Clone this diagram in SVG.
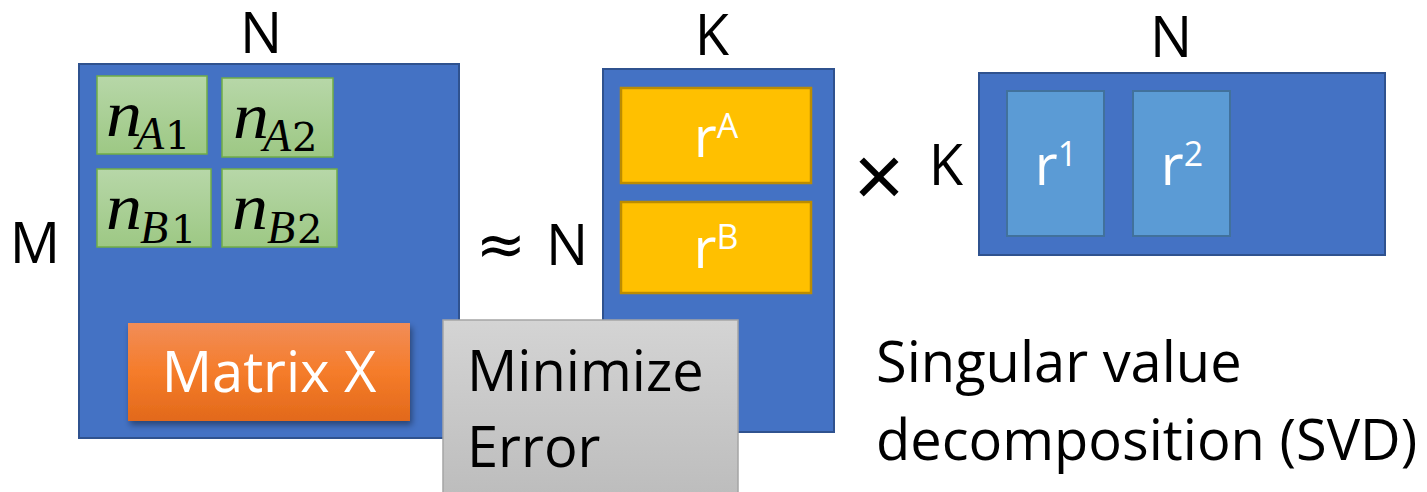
<svg xmlns="http://www.w3.org/2000/svg" width="1427" height="492" viewBox="0 0 1427 492">
<defs>
<style>
.lbl{font-family:"Open Sans","Liberation Sans",sans-serif;font-size:56px;fill:#000}
.wt{font-family:"Open Sans","Liberation Sans",sans-serif;font-size:56px;fill:#fff}
.mat{fill:#4472c4;stroke:#2f528f;stroke-width:2}
.gr{fill:url(#gGreen);stroke:#70ad47;stroke-width:1.5}
.yl{fill:#ffc000;stroke:#bc8c00;stroke-width:2.5}
.lb{fill:#5b9bd5;stroke:#41719c;stroke-width:2}
.mn{font-family:"Liberation Serif","DejaVu Serif",serif;font-style:italic;font-size:66px;fill:#000}
.ms{font-family:"Liberation Serif","DejaVu Serif",serif;font-style:italic;font-size:46px;fill:#000}
.md{font-family:"DejaVu Serif","Liberation Serif",serif;font-size:40px;fill:#000}
</style>
<linearGradient id="gGreen" x1="0" y1="0" x2="0" y2="1">
<stop offset="0" stop-color="#b7d7a8"/>
<stop offset="1" stop-color="#9dc884"/>
</linearGradient>
<linearGradient id="gOrange" x1="0" y1="0" x2="0" y2="1">
<stop offset="0" stop-color="#f18d58"/>
<stop offset="0.5" stop-color="#f57c2a"/>
<stop offset="1" stop-color="#e2691b"/>
</linearGradient>
<linearGradient id="gGray" x1="0" y1="0" x2="0" y2="1">
<stop offset="0" stop-color="#d4d4d4"/>
<stop offset="1" stop-color="#bdbdbd"/>
</linearGradient>
<filter id="sh" x="-10%" y="-10%" width="130%" height="140%">
<feDropShadow dx="2" dy="4" stdDeviation="3" flood-color="#000" flood-opacity="0.4"/>
</filter>
</defs>

<g id="labels">
<text class="lbl" x="261" y="53" text-anchor="middle">N</text>
<text class="lbl" x="35" y="263" text-anchor="middle">M</text>
<text class="lbl" x="712" y="55" text-anchor="middle">K</text>
<text class="lbl" x="567" y="265" text-anchor="middle">N</text>
<text x="501" y="265" text-anchor="middle" style="font-family:'DejaVu Sans',sans-serif;font-size:60px">≈</text>
<text x="879" y="206" text-anchor="middle" style="font-family:'Liberation Sans',sans-serif;font-size:88px">×</text>
<text class="lbl" x="946" y="185" text-anchor="middle">K</text>
<text class="lbl" x="1171" y="57" text-anchor="middle">N</text>
</g>

<g id="matrix-x">
<rect class="mat" x="79" y="64" width="380" height="374"/>
</g>
<g id="nA1">
<rect class="gr" x="97" y="76" width="110" height="78"/>
<text class="mn" x="106" y="136" textLength="36" lengthAdjust="spacingAndGlyphs">n</text>
<text class="ms" x="136" y="149">A</text>
<text class="md" x="165" y="149">1</text>
</g>
<g id="nA2">
<rect class="gr" x="222" y="78" width="111" height="79"/>
<text class="mn" x="233" y="138" textLength="36" lengthAdjust="spacingAndGlyphs">n</text>
<text class="ms" x="263" y="151">A</text>
<text class="md" x="292" y="151">2</text>
</g>
<g id="nB1">
<rect class="gr" x="97" y="169" width="114" height="78"/>
<text class="mn" x="106" y="229" textLength="36" lengthAdjust="spacingAndGlyphs">n</text>
<text class="ms" x="140" y="243">B</text>
<text class="md" x="171" y="243">1</text>
</g>
<g id="nB2">
<rect class="gr" x="222" y="169" width="115" height="78"/>
<text class="mn" x="232" y="229" textLength="36" lengthAdjust="spacingAndGlyphs">n</text>
<text class="ms" x="267" y="243">B</text>
<text class="md" x="297" y="243">2</text>
</g>
<g id="matrix-x-label">
<rect x="128" y="323" width="282" height="98" fill="url(#gOrange)" filter="url(#sh)"/>
<text class="wt" x="269" y="392" text-anchor="middle">Matrix X</text>
</g>

<g id="matrix-nk">
<rect class="mat" x="603" y="69" width="231" height="363"/>
</g>
<g id="rA">
<rect class="yl" x="621" y="88" width="190" height="95"/>
<text class="wt" x="716" y="157" text-anchor="middle">r<tspan dy="-19" font-size="34">A</tspan></text>
</g>
<g id="rB">
<rect class="yl" x="621" y="202" width="190" height="91"/>
<text class="wt" x="716" y="268" text-anchor="middle">r<tspan dy="-19" font-size="34">B</tspan></text>
</g>

<g id="matrix-kn">
<rect class="mat" x="979" y="73" width="406" height="182"/>
</g>
<g id="r1">
<rect class="lb" x="1007" y="91" width="97" height="145"/>
<text class="wt" x="1056" y="185" text-anchor="middle">r<tspan dy="-19" font-size="34">1</tspan></text>
</g>
<g id="r2">
<rect class="lb" x="1133" y="91" width="97" height="145"/>
<text class="wt" x="1182" y="185" text-anchor="middle">r<tspan dy="-19" font-size="34">2</tspan></text>
</g>

<g id="minimize-error">
<rect x="443" y="320" width="295" height="174" fill="url(#gGray)" stroke="#a5a5a5" stroke-width="1.5"/>
<text class="lbl" x="467" y="391">Minimize</text>
<text class="lbl" x="467" y="467">Error</text>
</g>

<g id="svd-caption">
<text class="lbl" x="876" y="382">Singular value</text>
<text class="lbl" x="876" y="460">decomposition (SVD)</text>
</g>

<g id="connectors"></g>
</svg>
